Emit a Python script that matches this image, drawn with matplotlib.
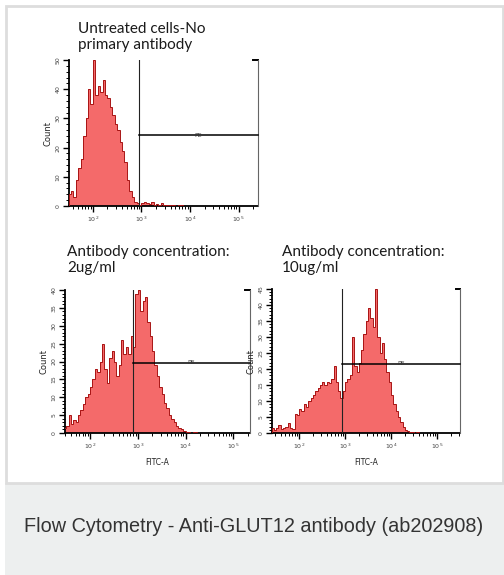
"""
Flow cytometry histograms - Anti-GLUT12 antibody (ab202908).
Three FITC-A histograms with a PE range gate, caption panel underneath.
"""
import matplotlib
matplotlib.use('Agg')
import matplotlib.pyplot as plt
import matplotlib.ticker as mticker
from matplotlib.patches import Rectangle
import numpy as np

plt.rcParams['font.family'] = ['DejaVu Sans']
plt.rcParams['axes.unicode_minus'] = False

# ── colours ──
FILL = '#F46A6A'
EDGE = '#A81414'
GATE = '#222222'
BORDER = '#DDDDDD'
CAPTION_BG = '#EDEFEF'
CAPTION_TXT = '#333333'

# ── data: counts per 0.05-decade bin of FITC-A ──
BIN_STEP = 0.05

untreated_start = 1.50
untreated_counts = [4, 5, 3, 9, 13, 16, 24, 30, 40, 35,
                    50, 38, 41, 39, 43, 38, 37, 34, 31, 28,
                    26, 22, 19, 15, 9, 5, 3, 1.5, 1, 0.5,
                    1, 1.5, 1, 0.8, 1.2, 0.5, 0.8, 0.5, 1, 0.3,
                    0.5, 0.2, 0.3, 0.2, 0, 0.2, 0.3]

conc2_start = 1.45
conc2_counts = [1.5, 2, 5, 2.5, 3.5, 3, 5, 6.5, 8, 10,
                11, 13, 15, 18, 17, 20, 25, 18, 14, 21,
                23, 20, 16, 19, 26, 22, 24, 22, 27, 24,
                39, 40, 34, 37, 38, 31, 27, 23, 19, 16,
                13, 11, 8.5, 7, 5, 4, 3, 2, 1.5, 1,
                0.5, 0.3, 0.2, 0, 0.3, 0.2]

conc10_start = 1.40
conc10_counts = [1.5, 1, 1.5, 2.5, 1.2, 1.5, 2, 3, 1.5, 1.2,
                 6, 5.5, 7.5, 7, 9, 8, 10, 11, 12, 13,
                 14, 15, 16, 15, 16, 15.5, 17, 21, 16, 13,
                 11, 13, 16, 17, 18, 30, 21, 19, 22, 26,
                 31, 35, 39, 36, 33, 45, 30, 25, 28, 23,
                 19, 16, 12, 9, 7, 5, 3.5, 2, 1, 0.5,
                 0.3, 0.2, 0, 0.2]

titles = ['Untreated cells-No\nprimary antibody',
          'Antibody concentration:\n2ug/ml',
          'Antibody concentration:\n10ug/ml']
y_max = [50, 40, 45]
y_major = [10, 5, 5]
y_minor = [2, 1, 1]
x_lims = [(1.51, 5.40), (1.476, 5.35), (1.41, 5.50)]   # log10 units
gate_left = [2.95, 2.90, 2.93]
gate_y = [24.3, 19.6, 21.6]
caption = 'Flow Cytometry - Anti-GLUT12 antibody (ab202908)'

W, H = 504, 575
fig = plt.figure(figsize=(W / 100, H / 100), dpi=100)
fig.patch.set_facecolor('white')

# background frame + caption band, in pixel coordinates
bg = fig.add_axes([0, 0, 1, 1], zorder=-5)
bg.set_xlim(0, W)
bg.set_ylim(H, 0)
bg.axis('off')
bg.add_patch(Rectangle((5, 483), W - 5, H - 483, facecolor=CAPTION_BG, edgecolor='none'))
bg.add_patch(Rectangle((5.5, 5.5), W - 7, 477, facecolor='none', edgecolor=BORDER, lw=2))
bg.text(254, 527, caption, ha='center', va='center', fontsize=14.3,
        color=CAPTION_TXT, family='Liberation Sans')


def px_axes(left, right, top, bottom):
    return fig.add_axes([left / W, 1 - bottom / H, (right - left) / W, (bottom - top) / H])


def draw_panel(ax, start, counts, idx, xlabel):
    counts = np.array(counts, dtype=float)
    edges = 10 ** (start + BIN_STEP * np.arange(len(counts) + 1))
    ax.set_xscale('log')
    ax.stairs(counts, edges, fill=True, color=FILL, zorder=2)
    ax.stairs(counts, edges, color=EDGE, lw=0.7, zorder=3)

    lo, hi = x_lims[idx]
    ax.set_xlim(10 ** lo, 10 ** hi)
    ax.set_ylim(0, y_max[idx])

    # range gate "PE"
    gl = 10 ** gate_left[idx]
    gr = 10 ** hi
    ax.plot([gl, gl], [0, y_max[idx]], color=GATE, lw=0.8, zorder=4)
    ax.plot([gr, gr], [0, y_max[idx]], color='#666666', lw=0.8, zorder=4, clip_on=False)
    ax.plot([gl, gr], [gate_y[idx], gate_y[idx]], color='black', lw=1.1, zorder=4, clip_on=False)
    ax.plot([gr / 1.25, gr], [y_max[idx], y_max[idx]], color='black', lw=1.4, clip_on=False)
    xm = 10 ** ((gate_left[idx] + hi) / 2)
    ax.text(xm, gate_y[idx], 'PE', fontsize=4.5, color='#333333', ha='center', va='center', zorder=5)

    for s in ['top', 'right']:
        ax.spines[s].set_visible(False)
    for s in ['left', 'bottom']:
        ax.spines[s].set_linewidth(1.3)
        ax.spines[s].set_color('black')

    ax.xaxis.set_major_locator(mticker.FixedLocator([1e2, 1e3, 1e4, 1e5]))
    ax.xaxis.set_major_formatter(mticker.FuncFormatter(lambda v, p: r'$10^{%d}$' % round(np.log10(v))))
    ax.xaxis.set_minor_locator(mticker.LogLocator(base=10, subs=np.arange(2, 10)))
    ax.xaxis.set_minor_formatter(mticker.NullFormatter())
    ax.yaxis.set_major_locator(mticker.MultipleLocator(y_major[idx]))
    ax.yaxis.set_minor_locator(mticker.MultipleLocator(y_minor[idx]))

    ax.tick_params(axis='both', which='major', length=4.5, width=1, labelsize=4.5,
                   colors='black', labelcolor='#444444', pad=1.5)
    ax.tick_params(axis='both', which='minor', length=2.5, width=0.7)
    for t in ax.get_yticklabels():
        t.set_rotation(90)
        t.set_va('center')
    ax.set_ylabel('Count', fontsize=6, color='#222222', labelpad=2)
    if xlabel:
        ax.set_xlabel('FITC-A', fontsize=5.5, color='#222222', labelpad=5)
    ax.set_facecolor('white')


ax1 = px_axes(69, 258, 60, 206)
draw_panel(ax1, untreated_start, untreated_counts, 0, False)
ax2 = px_axes(65, 250, 290, 433)
draw_panel(ax2, conc2_start, conc2_counts, 1, True)
ax3 = px_axes(272, 460, 289, 433)
draw_panel(ax3, conc10_start, conc10_counts, 2, True)

title_font = dict(fontsize=11, color='#1a1a1a', family='Lato', va='top', ha='left', linespacing=1.2)
bg.text(78, 22, titles[0], **title_font)
bg.text(67, 245, titles[1], **title_font)
bg.text(282, 245, titles[2], **title_font)

plt.savefig('out.png', dpi=100, facecolor='white')
plt.close()
